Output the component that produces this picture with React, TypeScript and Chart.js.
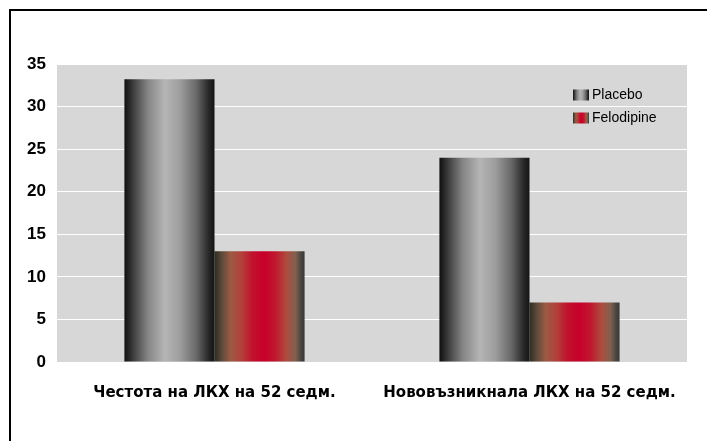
import { useEffect, useRef } from "react";
import { Chart, registerables } from "chart.js";

Chart.register(...registerables);

// Chart data
const categories = ["Честота на ЛКХ на 52 седм.", "Нововъзникнала ЛКХ на 52 седм."];
const seriesNames = ["Placebo", "Felodipine"];
const placeboValues = [33.2, 24];
const felodipineValues = [13, 7];
const yMin = 0;
const yMax = 35;
const yStep = 5;

// Horizontal "cylinder" shading for each series
const placeboStops: [number, string][] = [
  [0, "#0f0f0f"],
  [0.1, "#3e3e3e"],
  [0.26, "#858585"],
  [0.45, "#b5b5b5"],
  [0.62, "#9d9d9d"],
  [0.8, "#686868"],
  [0.93, "#2a2a2a"],
  [1, "#131313"],
];
const felodipineStops: [number, string][] = [
  [0, "#2c2b22"],
  [0.08, "#5c4a3a"],
  [0.18, "#9c5a44"],
  [0.3, "#b3403a"],
  [0.42, "#c0122d"],
  [0.55, "#c8002a"],
  [0.68, "#c0182f"],
  [0.8, "#ae4c3e"],
  [0.9, "#80604f"],
  [0.96, "#4a4540"],
  [1, "#383838"],
];
const seriesStops = [placeboStops, felodipineStops];

const PLOT_BG = "#d7d7d7";
const FONT = "'Liberation Sans', Arial, Helvetica, sans-serif";
const CATEGORY_FONT = "'DejaVu Sans', Verdana, sans-serif";

function makeGradient(
  ctx: CanvasRenderingContext2D,
  x0: number,
  x1: number,
  stops: [number, string][]
) {
  const g = ctx.createLinearGradient(x0, 0, x1, 0);
  stops.forEach(([o, c]) => g.addColorStop(o, c));
  return g;
}

const plotBackground = {
  id: "plotBackground",
  beforeDraw(chart: any) {
    const { ctx, chartArea } = chart;
    ctx.save();
    ctx.fillStyle = PLOT_BG;
    ctx.fillRect(chartArea.left, chartArea.top, chartArea.right - chartArea.left, chartArea.bottom - chartArea.top);
    ctx.restore();
  },
};

// Gives every bar its own left-to-right shading
const barShading = {
  id: "barShading",
  beforeDatasetsDraw(chart: any) {
    const { ctx } = chart;
    chart.data.datasets.forEach((_ds: any, di: number) => {
      const meta = chart.getDatasetMeta(di);
      meta.data.forEach((el: any) => {
        const half = el.width / 2;
        const grad = makeGradient(ctx, el.x - half, el.x + half, seriesStops[di]);
        el.options = Object.assign({}, el.options, { backgroundColor: grad });
      });
    });
  },
};

const frameAndLegend = {
  id: "frameAndLegend",
  afterDraw(chart: any) {
    const { ctx, width, height } = chart;
    ctx.save();
    // outer frame
    ctx.strokeStyle = "#000";
    ctx.lineWidth = 2;
    ctx.beginPath();
    ctx.moveTo(10, height + 5);
    ctx.lineTo(10, 10);
    ctx.lineTo(width + 5, 10);
    ctx.stroke();

    // legend inside the plot
    const sx = 573;
    const sw = 16;
    const sh = 11;
    const rows = [95, 118];
    ctx.font = `14px ${FONT}`;
    ctx.textBaseline = "middle";
    ctx.textAlign = "left";
    chart.data.datasets.forEach((ds: any, i: number) => {
      const cy = rows[i];
      ctx.fillStyle = makeGradient(ctx, sx, sx + sw, seriesStops[i]);
      ctx.fillRect(sx, cy - sh / 2, sw, sh);
      ctx.fillStyle = "#000";
      ctx.fillText(ds.label, sx + 19, cy + 0.5);
    });
    ctx.restore();
  },
};

export default function App() {
  const canvasRef = useRef<HTMLCanvasElement | null>(null);

  useEffect(() => {
    const canvas = canvasRef.current;
    if (!canvas) return;
    const chart = new Chart(canvas, {
      type: "bar",
      data: {
        labels: categories,
        datasets: [
          { label: seriesNames[0], data: placeboValues, backgroundColor: "#888" },
          { label: seriesNames[1], data: felodipineValues, backgroundColor: "#c00" },
        ],
      },
      options: {
        responsive: false,
        animation: false,
        devicePixelRatio: 1,
        layout: { padding: { top: 64, right: 20, left: 0, bottom: 0 } },
        datasets: {
          bar: { categoryPercentage: 0.572, barPercentage: 1, borderWidth: 0 },
        },
        plugins: {
          legend: { display: false },
          tooltip: { enabled: false },
        },
        scales: {
          x: {
            grid: { display: false, drawTicks: false },
            border: { display: false },
            ticks: {
              color: "#000",
              padding: 22,
              font: { family: CATEGORY_FONT, size: 15, weight: "bold" },
            },
            afterFit(scale: any) {
              scale.height = 79;
            },
          },
          y: {
            min: yMin,
            max: yMax,
            grid: { color: "#ffffff", lineWidth: 1, drawTicks: false },
            border: { display: false },
            ticks: {
              stepSize: yStep,
              color: "#000",
              padding: 11,
              font: { family: FONT, size: 17, weight: "bold" },
            },
            afterFit(scale: any) {
              scale.width = 57;
            },
          },
        },
      },
      plugins: [plotBackground, barShading, frameAndLegend],
    });
    return () => chart.destroy();
  }, []);

  return (
    <div style={{ position: "fixed", left: 0, top: 0, width: 707, height: 441, background: "#fff" }}>
      <canvas ref={canvasRef} width={707} height={441} style={{ display: "block" }} />
    </div>
  );
}
